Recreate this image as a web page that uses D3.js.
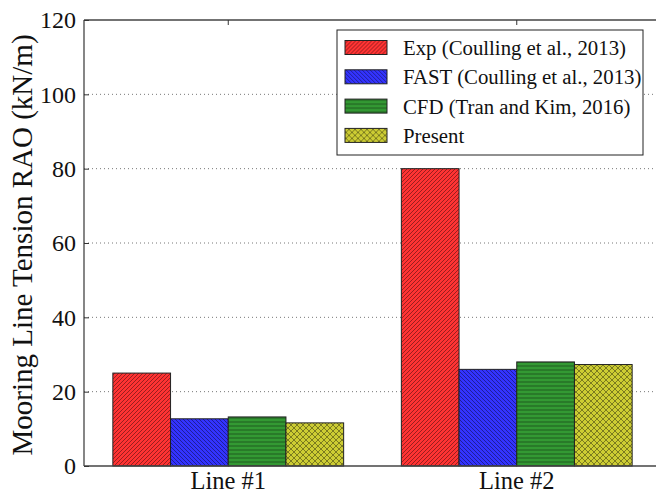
<!DOCTYPE html>
<html>
<head>
<meta charset="utf-8">
<script src="https://cdn.jsdelivr.net/npm/d3@7"></script>
<style>
  body { margin: 0; background: #fff; }
  svg { display: block; }
  svg text { font-family: "Liberation Serif", "Times New Roman", Times, "DejaVu Serif", serif !important; }
</style>
</head>
<body>
<svg id="chart"></svg>
<script>
const groups = ["Line #1", "Line #2"];
const seriesNames = [
  "Exp (Coulling et al., 2013)",
  "FAST (Coulling et al., 2013)",
  "CFD (Tran and Kim, 2016)",
  "Present"
];
const expValues = [25.0, 80.0];
const fastValues = [12.7, 26.0];
const cfdValues = [13.2, 28.0];
const presentValues = [11.6, 27.3];
const yTicks = [0, 20, 40, 60, 80, 100, 120];

const seriesValues = [expValues, fastValues, cfdValues, presentValues];
const fills = ["#ff3333", "#3333ff", "#339933", "#cccc33"];
const hatchIds = ["hatch-fwd", "hatch-back", "hatch-horiz", "hatch-cross"];

const W = 656, H = 494;
const margin = { top: 20, right: -5, bottom: 28, left: 84 };
const plotW = W - margin.left - margin.right,
      plotH = H - margin.top - margin.bottom;

const svg = d3.select("#chart").attr("width", W).attr("height", H);

// hatch patterns
const defs = svg.append("defs");
function addPattern(id, color, size, d) {
  const p = defs.append("pattern")
    .attr("id", id)
    .attr("patternUnits", "userSpaceOnUse")
    .attr("width", size).attr("height", size);
  p.append("rect").attr("width", size).attr("height", size).attr("fill", color);
  p.append("path").attr("d", d)
    .attr("stroke", "#000").attr("stroke-opacity", 0.5)
    .attr("stroke-width", 0.8).attr("fill", "none");
}
addPattern(hatchIds[0], fills[0], 4, "M-1,1 l2,-2 M0,4 l4,-4 M3,5 l2,-2");
addPattern(hatchIds[1], fills[1], 4, "M-1,3 l2,2 M0,0 l4,4 M3,-1 l2,2");
addPattern(hatchIds[2], fills[2], 4, "M0,2 L4,2");
addPattern(hatchIds[3], fills[3], 6, "M-1,1 l2,-2 M0,6 l6,-6 M5,7 l2,-2 M-1,5 l2,2 M0,0 l6,6 M5,-1 l2,2");

const g = svg.append("g").attr("transform", `translate(${margin.left},${margin.top})`);

const y = d3.scaleLinear().domain([0, 120]).range([plotH, 0]);
const x0 = d3.scaleBand().domain(groups).range([0, plotW]).paddingInner(0.2).paddingOuter(0.1);
const x1 = d3.scaleBand().domain(seriesNames).range([0, x0.bandwidth()]).padding(0);

// grid
g.append("g").selectAll("line")
  .data(yTicks.filter(t => t > 0 && t < 120))
  .join("line")
  .attr("x1", 0).attr("x2", plotW)
  .attr("y1", d => y(d)).attr("y2", d => y(d))
  .attr("stroke", "#777").attr("stroke-width", 1)
  .attr("stroke-dasharray", "1,3");

// bars
seriesNames.forEach((name, si) => {
  g.append("g").selectAll("rect")
    .data(groups.map((grp, gi) => ({ grp, v: seriesValues[si][gi] })))
    .join("rect")
    .attr("x", d => x0(d.grp) + x1(name))
    .attr("width", x1.bandwidth())
    .attr("y", d => y(d.v))
    .attr("height", d => plotH - y(d.v))
    .attr("fill", `url(#${hatchIds[si]})`)
    .attr("stroke", "#222").attr("stroke-width", 1);
});

// spines
const spineColor = "#444", spineW = 1.3;
g.append("line").attr("x1", 0).attr("x2", plotW).attr("y1", 0).attr("y2", 0).attr("stroke", spineColor).attr("stroke-width", spineW);
g.append("line").attr("x1", 0).attr("x2", plotW).attr("y1", plotH).attr("y2", plotH).attr("stroke", spineColor).attr("stroke-width", spineW);
g.append("line").attr("x1", 0).attr("x2", 0).attr("y1", 0).attr("y2", plotH).attr("stroke", spineColor).attr("stroke-width", spineW);

// y axis
const yAxis = g.append("g")
  .call(d3.axisLeft(y).tickValues(yTicks).tickSize(-5).tickPadding(8).tickFormat(d3.format("d")));
yAxis.attr("font-family", null);
yAxis.select(".domain").remove();
yAxis.selectAll(".tick line").attr("stroke", "#333");
yAxis.selectAll("text").style("font-size", "24px").attr("fill", "#111");

// x axis labels + top ticks
const xAxis = g.append("g").attr("transform", `translate(0,${plotH})`)
  .call(d3.axisBottom(x0).tickSize(0).tickPadding(6));
xAxis.attr("font-family", null);
xAxis.select(".domain").remove();
xAxis.selectAll("text").style("font-size", "24.5px").attr("fill", "#111");
g.append("g").selectAll("line").data(groups).join("line")
  .attr("x1", d => x0(d) + x0.bandwidth() / 2).attr("x2", d => x0(d) + x0.bandwidth() / 2)
  .attr("y1", 0).attr("y2", 5).attr("stroke", "#333");

// y label
svg.append("text")
  .attr("transform", `translate(32,${margin.top + plotH / 2 + 2}) rotate(-90)`)
  .attr("text-anchor", "middle")
  .style("font-size", "29px")
  .attr("fill", "#111")
  .text("Mooring Line Tension RAO (kN/m)");

// legend
const legend = svg.append("g").attr("transform", "translate(337,30)");
legend.append("rect").attr("width", 306).attr("height", 125)
  .attr("fill", "#fff").attr("stroke", "#222").attr("stroke-width", 1);
seriesNames.forEach((name, i) => {
  const row = legend.append("g").attr("transform", `translate(0,${17.5 + i * 29.3})`);
  row.append("rect").attr("x", 8).attr("y", -7).attr("width", 42).attr("height", 14)
    .attr("fill", `url(#${hatchIds[i]})`).attr("stroke", "#222").attr("stroke-width", 1);
  row.append("text").attr("x", 66).attr("y", 7.5)
    .style("font-size", "20.8px").attr("fill", "#111").text(name);
});
</script>
</body>
</html>
